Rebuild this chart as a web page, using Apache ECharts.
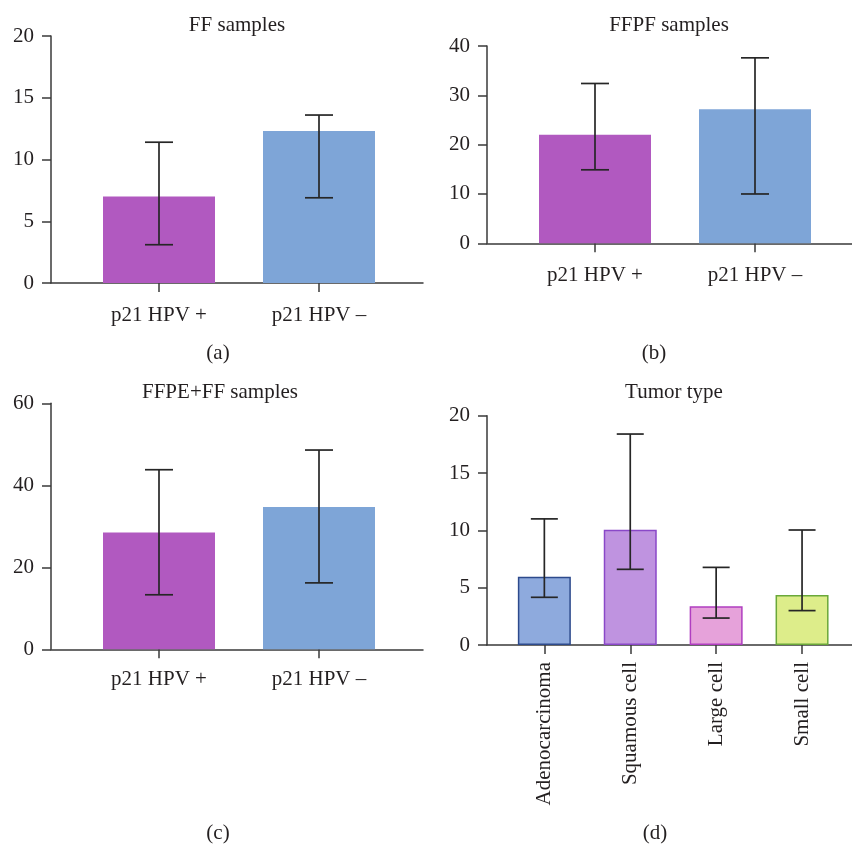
<!DOCTYPE html>
<html>
<head>
<meta charset="utf-8">
<script src="https://cdn.jsdelivr.net/npm/echarts@6/dist/echarts.min.js"></script>
<style>html,body{margin:0;padding:0;background:#fff;}#c{width:852px;height:845px;}</style>
</head>
<body>
<div id="c"></div>
<script>
// ---- data ----
const hpvCats = ['p21 HPV +', 'p21 HPV –'];
const ffMean = [7.0, 12.3];
const ffLow = [3.1, 6.9];
const ffHigh = [11.4, 13.6];

const ffpfMean = [22.0, 27.2];
const ffpfLow = [14.9, 10.0];
const ffpfHigh = [32.4, 37.6];

const combMean = [28.5, 34.7];
const combLow = [13.3, 16.2];
const combHigh = [43.8, 48.6];

const tumorCats = ['Adenocarcinoma', 'Squamous cell', 'Large cell', 'Small cell'];
const tumorMean = [5.95, 10.05, 3.37, 4.36];
const tumorLow = [4.16, 6.6, 2.35, 3.0];
const tumorHigh = [11.0, 18.4, 6.77, 10.03];

const yTicksA = [0, 5, 10, 15, 20];
const yTicksB = [0, 10, 20, 30, 40];
const yTicksC = [0, 20, 40, 60];
const yTicksD = [0, 5, 10, 15, 20];

// ---- styles ----
const FONT = '"Liberation Serif", "DejaVu Serif", serif';
const FS = 21;
const AX = '#3a3a3a';
const TXT = '#231f20';
const PURPLE = '#b159c0';
const BLUE = '#7ea5d7';
const tumorFill = ['#8eaadd', '#bf93e0', '#e6a2da', '#dded8a'];
const tumorBorder = ['#2d4a8c', '#8a48c8', '#b03ec0', '#6aa83a'];

const panels = [
  {outer:{left:51, top:36, width:372, height:247}, inner:{left:79, width:320}, cats:hpvCats, mean:ffMean, low:ffLow, high:ffHigh, ticks:yTicksA, colors:[PURPLE, BLUE], borders:null, barW:112, cap:14, rotate:0, labelMargin:22},
  {outer:{left:487, top:46, width:365, height:197.3}, inner:{left:515, width:320}, cats:hpvCats, mean:ffpfMean, low:ffpfLow, high:ffpfHigh, ticks:yTicksB, colors:[PURPLE, BLUE], borders:null, barW:112, cap:14, rotate:0, labelMargin:22},
  {outer:{left:51, top:403.3, width:372, height:246}, inner:{left:79, width:320}, cats:hpvCats, mean:combMean, low:combLow, high:combHigh, ticks:yTicksC, colors:[PURPLE, BLUE], borders:null, barW:112, cap:14, rotate:0, labelMargin:20},
  {outer:{left:487, top:415.7, width:365, height:229.3}, inner:{left:501.4, width:343.6}, cats:tumorCats, mean:tumorMean, low:tumorLow, high:tumorHigh, ticks:yTicksD, colors:tumorFill, borders:tumorBorder, barW:53, cap:13.5, rotate:90, labelMargin:17}
];

const grids = [], xAxes = [], yAxes = [], series = [];

panels.forEach((p, i) => {
  const og = grids.length;
  grids.push({left:p.outer.left, top:p.outer.top, width:p.outer.width, height:p.outer.height, containLabel:false, outerBoundsMode:'none'});
  const ig = grids.length;
  grids.push({left:p.inner.left, top:p.outer.top, width:p.inner.width, height:p.outer.height, containLabel:false, outerBoundsMode:'none'});
  const tmin = p.ticks[0], tmax = p.ticks[p.ticks.length - 1], tint = p.ticks[1] - p.ticks[0];
  // outer axes: line + y ticks/labels
  xAxes.push({gridIndex:og, type:'category', data:[''], axisLine:{show:true, lineStyle:{color:AX, width:1.5}}, axisTick:{show:false}, axisLabel:{show:false}, splitLine:{show:false}});
  yAxes.push({gridIndex:og, type:'value', min:tmin, max:tmax, interval:tint,
    axisLine:{show:true, lineStyle:{color:AX, width:1.5}},
    axisTick:{show:true, length:9, lineStyle:{color:AX, width:1.5}},
    axisLabel:{color:TXT, fontFamily:FONT, fontSize:FS, margin:17},
    splitLine:{show:false}});
  // inner axes: categories
  const xi = xAxes.length;
  xAxes.push({gridIndex:ig, type:'category', data:p.cats,
    axisLine:{show:false},
    axisTick:{show:true, alignWithLabel:true, length:9, lineStyle:{color:AX, width:1.5}},
    axisLabel:{color:TXT, fontFamily:FONT, fontSize:FS, margin:p.labelMargin, rotate:p.rotate, interval:0},
    splitLine:{show:false}});
  const yi = yAxes.length;
  yAxes.push({gridIndex:ig, type:'value', min:tmin, max:tmax, interval:tint, show:false});
  series.push({type:'bar', xAxisIndex:xi, yAxisIndex:yi, barWidth:p.barW, silent:true, animation:false,
    data:p.mean.map((v, k) => ({value:v, itemStyle:{color:p.colors[k], borderColor:p.borders ? p.borders[k] : null, borderWidth:p.borders ? 1.5 : 0}}))});
  const cap = p.cap;
  series.push({type:'custom', xAxisIndex:xi, yAxisIndex:yi, silent:true, animation:false, z:5,
    data:p.low.map((lo, k) => [k, lo, p.high[k]]),
    encode:{x:0, y:[1, 2]},
    renderItem:function(params, api){
      const x = api.value(0);
      const a = api.coord([x, api.value(1)]);
      const b = api.coord([x, api.value(2)]);
      const st = {stroke:'#262626', lineWidth:1.7};
      return {type:'group', children:[
        {type:'line', shape:{x1:a[0], y1:a[1], x2:b[0], y2:b[1]}, style:st},
        {type:'line', shape:{x1:a[0]-cap, y1:a[1], x2:a[0]+cap, y2:a[1]}, style:st},
        {type:'line', shape:{x1:b[0]-cap, y1:b[1], x2:b[0]+cap, y2:b[1]}, style:st}
      ]};
    }});
});

const texts = [
  ['FF samples', 237, 25], ['FFPF samples', 669, 25],
  ['FFPE+FF samples', 220, 392], ['Tumor type', 674, 392],
  ['(a)', 218, 353], ['(b)', 654, 353], ['(c)', 218, 833], ['(d)', 655, 833]
];
const graphic = texts.map(t => ({type:'text', x:t[1], y:t[2], silent:true,
  style:{text:t[0], fill:TXT, fontFamily:FONT, fontSize:FS, align:'center', verticalAlign:'middle'}}));

const chart = echarts.init(document.getElementById('c'), null, {renderer:'canvas'});
chart.setOption({backgroundColor:'#ffffff', animation:false, grid:grids, xAxis:xAxes, yAxis:yAxes, series:series, graphic:graphic});
</script>
</body>
</html>
